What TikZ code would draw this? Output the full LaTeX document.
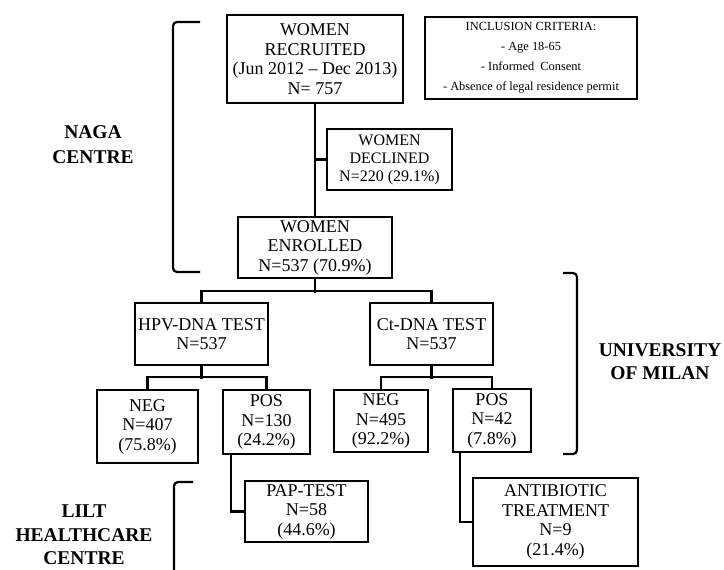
\documentclass[tikz,border=0pt]{standalone}
\usepackage{fontspec}
\setmainfont{Liberation Serif}
\begin{document}
\begin{tikzpicture}[x=1pt,y=-1pt,
  box/.style={draw,line width=2.6pt,inner sep=0pt,align=center,
    font=\fontsize{18}{19.5}\selectfont},
  smallbox/.style={box,font=\fontsize{16}{18}\selectfont},
  critbox/.style={box,font=\fontsize{12.4}{20}\selectfont},
  conn/.style={line width=2.3pt},
  brack/.style={line width=2.2pt,rounded corners=4pt},
  side/.style={align=center,font=\fontsize{19.5}{24.5}\selectfont\bfseries}]
\useasboundingbox (0,0) rectangle (724,570);
% boxes
\node[box,minimum width=176pt,minimum height=88pt] (rec) at (315,59)
  {WOMEN\\RECRUITED\\(Jun 2012 -- Dec 2013)\\N= 757};
\node[critbox,minimum width=212pt,minimum height=82pt] (incl) at (531,58)
  {INCLUSION CRITERIA:\\- Age 18-65\\- Informed\ \ Consent\\- Absence\ of legal\ residence\ permit};
\node[smallbox,minimum width=125pt,minimum height=61pt] (dec) at (389.5,159.5)
  {WOMEN\\DECLINED\\N=220 (29.1\%)};
\node[box,minimum width=154pt,minimum height=61pt] (enr) at (315,247.5)
  {WOMEN\\ENROLLED\\N=537 (70.9\%)};
\node[box,minimum width=133pt,minimum height=62pt] (hpv) at (201.5,334)
  {HPV-DNA TEST\\N=537};
\node[box,minimum width=123pt,minimum height=62pt] (ct) at (431.5,334)
  {Ct-DNA TEST\\N=537};
\node[box,minimum width=101pt,minimum height=73pt] (neg1) at (147.5,426.5)
  {NEG\\N=407\\(75.8\%)};
\node[box,minimum width=87pt,minimum height=64pt] (pos1) at (266.5,422)
  {POS\\N=130\\(24.2\%)};
\node[box,minimum width=94pt,minimum height=62pt] (neg2) at (381,421)
  {NEG\\N=495\\(92.2\%)};
\node[box,minimum width=78pt,minimum height=63pt] (pos2) at (492,420.5)
  {POS\\N=42\\(7.8\%)};
\node[box,minimum width=123pt,minimum height=61pt] (pap) at (306.5,511.5)
  {PAP-TEST\\N=58\\(44.6\%)};
\node[box,minimum width=165pt,minimum height=88pt] (anti) at (555.5,522)
  {ANTIBIOTIC\\TREATMENT\\N=9\\(21.4\%)};
% side labels
\node[side] (naga) at (93,144.5) {NAGA\\CENTRE};
\node[side,font=\fontsize{19.5}{23}\selectfont\bfseries] (milan) at (660,361.5) {UNIVERSITY\\OF MILAN};
\node[side,font=\fontsize{19.5}{23.5}\selectfont\bfseries] (lilt) at (84,535) {LILT\\HEALTHCARE\\CENTRE};
% connectors
\draw[conn] (rec.south) -- (enr.north);
\draw[conn] (rec.south |- dec.west) -- (dec.west);
\draw[conn] (enr.south) -- ++(0,14);
\draw[conn] (hpv.north) -- ++(0,-11) -| (ct.north);
\draw[conn] (hpv.south) -- ++(0,13);
\draw[conn] (neg1.north) -- ++(0,-12) -| (pos1.north);
\draw[conn] (ct.south) -- ++(0,13);
\draw[conn] (neg2.north) -- ++(0,-12) -| (pos2.north);
\draw[conn] (pos1.south west) ++(9,0) |- (pap.west);
\draw[conn] (pos2.south west) ++(8,0) |- (anti.west);
% brackets
\draw[brack] (200,22) -- (173,22) -- (173,272) -- (200,272);
\draw[brack] (563,273) -- (577,273) -- (577,454) -- (563,454);
\draw[brack] (193,482) -- (174,482) -- (174,580);
\end{tikzpicture}
\end{document}
